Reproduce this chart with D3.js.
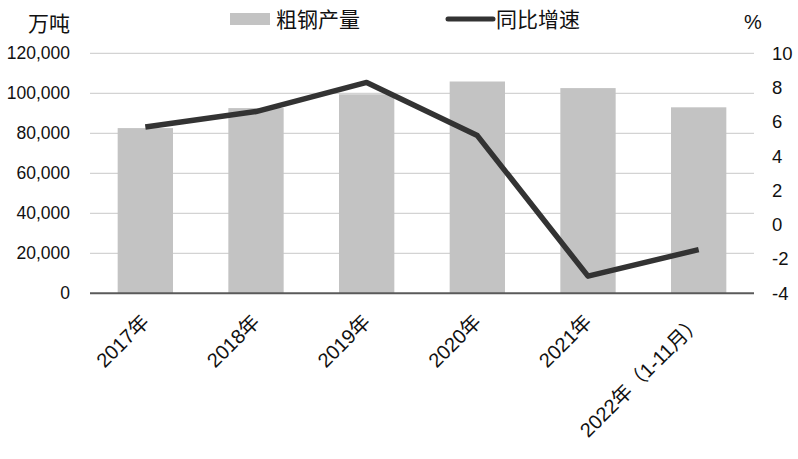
<!DOCTYPE html>
<html><head><meta charset="utf-8">
<script src="https://cdn.jsdelivr.net/npm/d3@7"></script>
<style>
body{margin:0;background:#fff;}
text{font-family:"Liberation Sans",Arial,"Noto Sans CJK SC",sans-serif;fill:#111;}
</style></head>
<body><svg id="c" width="798" height="459"></svg>
<script>
const categories = ["2017年","2018年","2019年","2020年","2021年","2022年（1-11月）"];
const output = [82600, 92600, 99500, 105900, 102600, 93000];
const growth = [5.7, 6.6, 8.3, 5.2, -3.0, -1.45];
const leftTicks = [0,20000,40000,60000,80000,100000,120000];
const rightTicks = [-4,-2,0,2,4,6,8,10];

const svg = d3.select("#c");
const L = 90, R = 754, T = 53.3, B = 293.3;
const x = d3.scaleBand().domain(categories).range([L,R]).paddingInner(0.5).paddingOuter(0.25);
const yL = d3.scaleLinear().domain([0,120000]).range([B,T]);
const yR = d3.scaleLinear().domain([-4,10]).range([B,T]);

// gridlines
svg.append("g").selectAll("line").data(leftTicks.slice(1)).join("line")
  .attr("x1",L).attr("x2",R).attr("y1",d=>yL(d)).attr("y2",d=>yL(d))
  .attr("stroke","#d3d3d3").attr("stroke-width",1.2);

// bars
svg.append("g").selectAll("rect").data(output).join("rect")
  .attr("x",(d,i)=>x(categories[i])).attr("width",x.bandwidth())
  .attr("y",d=>yL(d)).attr("height",d=>B-yL(d)).attr("fill","#c3c3c3");

// baseline
svg.append("line").attr("x1",L).attr("x2",R).attr("y1",B).attr("y2",B)
  .attr("stroke","#5a5a5a").attr("stroke-width",2);

// line
const line = d3.line().x((d,i)=>x(categories[i])+x.bandwidth()/2).y(d=>yR(d));
svg.append("path").datum(growth).attr("d",line).attr("fill","none")
  .attr("stroke","#333").attr("stroke-width",5.5).attr("stroke-linejoin","round");

// left axis
const la = svg.append("g").attr("transform",`translate(${L},0)`)
  .call(d3.axisLeft(yL).tickValues(leftTicks).tickFormat(d3.format(",")).tickSize(0).tickPadding(20));
la.select(".domain").remove();
la.selectAll("text").attr("font-size",17.5).attr("fill","#111").style("font-family","Liberation Sans, Arial");

// right axis
const ra = svg.append("g").attr("transform",`translate(${R},0)`)
  .call(d3.axisRight(yR).tickValues(rightTicks).tickFormat(d=>String(d)).tickSize(0).tickPadding(18));
ra.select(".domain").remove();
ra.selectAll("text").attr("font-size",18.5).attr("fill","#111").style("font-family","Liberation Sans, Arial");

// x labels
svg.append("g").selectAll("text").data(categories).join("text")
  .attr("transform",d=>`translate(${x(d)+x.bandwidth()/2},${B+25}) rotate(-45)`)
  .attr("text-anchor","end").attr("dy","0.35em").attr("font-size",20).text(d=>d);

// unit labels
svg.append("text").attr("x",70).attr("y",31).attr("text-anchor","end").attr("font-size",21).text("万吨");
svg.append("text").attr("x",744).attr("y",29).attr("font-size",20).text("%");

// legend
svg.append("rect").attr("x",230).attr("y",13).attr("width",40).attr("height",12).attr("fill","#c3c3c3");
svg.append("text").attr("x",276).attr("y",27).attr("font-size",21).text("粗钢产量");
svg.append("line").attr("x1",448).attr("x2",493).attr("y1",19).attr("y2",19).attr("stroke","#333").attr("stroke-width",5).attr("stroke-linecap","round");
svg.append("text").attr("x",496).attr("y",27).attr("font-size",21).text("同比增速");
</script></body></html>
